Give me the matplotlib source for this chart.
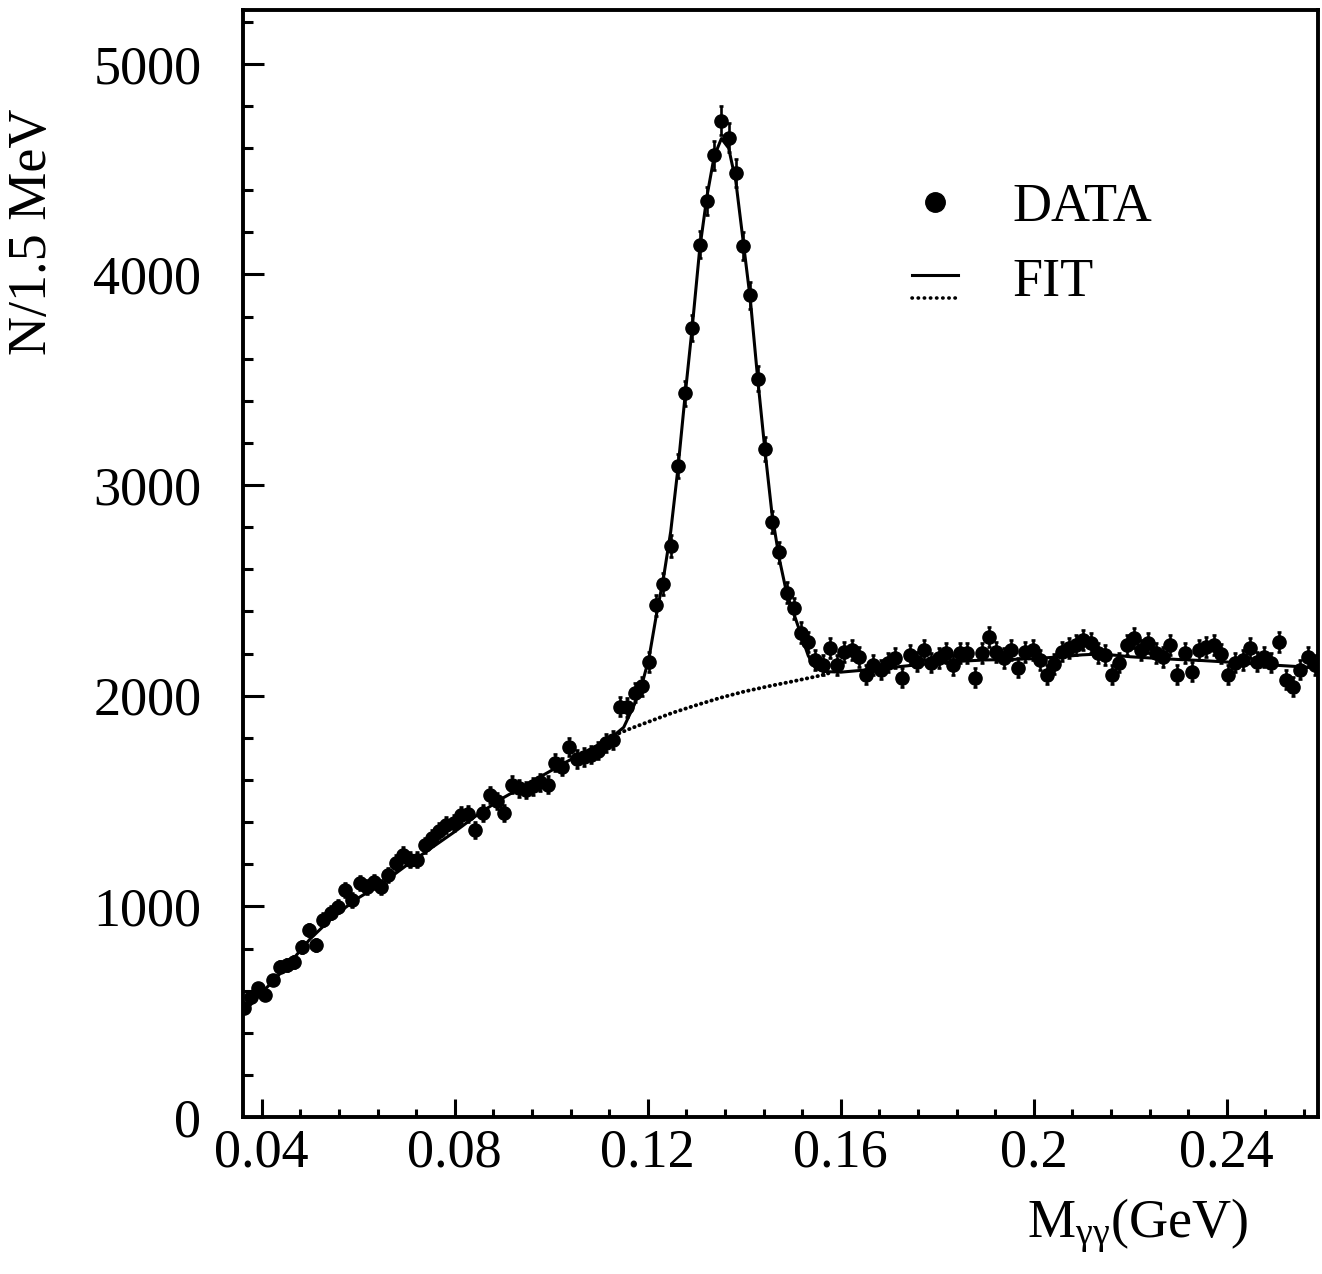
import numpy as np
import matplotlib
matplotlib.use("Agg")
import matplotlib.pyplot as plt
from matplotlib.lines import Line2D
from matplotlib.legend_handler import HandlerBase
from matplotlib.ticker import MultipleLocator, FormatStrFormatter

plt.rcParams['font.family'] = ['Liberation Serif', 'DejaVu Serif']
plt.rcParams['mathtext.fontset'] = 'custom'
plt.rcParams['mathtext.rm'] = 'Liberation Serif'
plt.rcParams['mathtext.it'] = 'Liberation Serif'

# histogram: 1.5 MeV bins, first bin starts at 0.0355 GeV
bin_start = 0.0355
bin_width = 0.0015
counts = [
    518, 570, 613, 580, 650, 713, 722, 736, 808, 888,
    817, 936, 969, 998, 1078, 1031, 1112, 1093, 1116, 1093,
    1150, 1207, 1245, 1221, 1221, 1290, 1325, 1360, 1387, 1397,
    1435, 1440, 1363, 1444, 1530, 1500, 1444, 1577, 1560, 1553,
    1570, 1590, 1577, 1682, 1663, 1758, 1700, 1710, 1720, 1740,
    1777, 1790, 1948, 1945, 2015, 2045, 2160, 2430, 2530, 2710,
    3090, 3435, 3745, 4140, 4350, 4565, 4730, 4650, 4480, 4135,
    3900, 3505, 3170, 2825, 2680, 2490, 2415, 2300, 2255, 2171,
    2147, 2228, 2147, 2209, 2219, 2185, 2100, 2147, 2124, 2157,
    2180, 2085, 2195, 2162, 2219, 2157, 2180, 2204, 2147, 2204,
    2204, 2085, 2204, 2280, 2209, 2180, 2219, 2133, 2209, 2219,
    2171, 2100, 2150, 2210, 2225, 2242, 2266, 2252, 2204, 2195,
    2100, 2157, 2242, 2276, 2219, 2252, 2204, 2185, 2242, 2100,
    2204, 2114, 2219, 2233, 2240, 2200, 2100, 2157, 2171, 2228,
    2162, 2185, 2157, 2257, 2076, 2043, 2124, 2185, 2147,
]

# fit curve (signal + background)
fit_x = [0.0355, 0.040, 0.045, 0.050, 0.055, 0.060, 0.065, 0.070, 0.075, 0.080,
         0.085, 0.090, 0.095, 0.100, 0.105, 0.110, 0.113, 0.115, 0.11725, 0.11875,
         0.12025, 0.12175, 0.12325, 0.12475, 0.12625, 0.12775, 0.12925, 0.13075, 0.13225, 0.13375,
         0.13525, 0.13675, 0.13825, 0.13975, 0.14125, 0.14275, 0.14425, 0.14575, 0.14725, 0.14875,
         0.15025, 0.15175, 0.15325, 0.15475, 0.1565, 0.160, 0.165, 0.170, 0.175, 0.180,
         0.185, 0.190, 0.195, 0.200, 0.205, 0.210, 0.2135, 0.217, 0.220, 0.225,
         0.230, 0.235, 0.240, 0.245, 0.250, 0.255, 0.2595]
fit_y = [480, 590, 710, 845, 955, 1040, 1110, 1195, 1275, 1355,
         1440, 1515, 1580, 1645, 1710, 1770, 1812, 1850, 1960, 2050,
         2180, 2380, 2560, 2780, 3080, 3430, 3760, 4120, 4370, 4560,
         4645, 4600, 4440, 4160, 3880, 3510, 3170, 2860, 2650, 2490,
         2390, 2290, 2190, 2130, 2115, 2112, 2122, 2133, 2145, 2156,
         2164, 2170, 2172, 2176, 2184, 2194, 2198, 2192, 2185, 2178,
         2172, 2167, 2160, 2152, 2145, 2138, 2132]

# background only (dotted), under the peak
bkg_x = [0.113, 0.1165, 0.120, 0.125, 0.130, 0.135, 0.140, 0.145, 0.150, 0.155, 0.158]
bkg_y = [1812, 1845, 1875, 1918, 1955, 1990, 2020, 2045, 2068, 2092, 2110]

counts = np.array(counts, dtype=float)
mass = bin_start + bin_width * (np.arange(len(counts)) + 0.5)
errors = np.sqrt(counts)


class FitHandler(HandlerBase):
    # solid line over a dotted one, like the original key
    def create_artists(self, legend, orig_handle, xdescent, ydescent,
                       width, height, fontsize, trans):
        y0 = -ydescent
        solid = Line2D([-xdescent, width - xdescent], [y0 + 0.55*height]*2,
                       color='k', lw=2.2)
        dots = Line2D([-xdescent, width - xdescent], [y0 - 0.05*height]*2,
                      color='k', lw=2.6, ls=(0, (0.1, 1.6)),
                      dash_capstyle='round')
        for a in (solid, dots):
            a.set_transform(trans)
        return [solid, dots]


fig = plt.figure(figsize=(13.22, 12.74), dpi=100)
ax = fig.add_axes([0.1838, 0.1232, 0.8132, 0.8689])

ax.errorbar(mass, counts, yerr=errors, fmt='o', color='k', ms=9.5,
            elinewidth=1.9, capsize=1.5, capthick=1.9, zorder=3)
ax.plot(fit_x, fit_y, color='k', lw=2.2, zorder=2)
ax.plot(bkg_x, bkg_y, color='k', lw=2.8, ls=(0, (0.1, 1.3)),
        dash_capstyle='round', zorder=2)

ax.set_xlim(0.0361, 0.2589)
ax.set_ylim(0, 5255)

ax.xaxis.set_major_locator(MultipleLocator(0.04))
ax.xaxis.set_minor_locator(MultipleLocator(0.008))
ax.xaxis.set_major_formatter(FormatStrFormatter('%g'))
ax.yaxis.set_major_locator(MultipleLocator(1000))
ax.yaxis.set_minor_locator(MultipleLocator(200))

ax.tick_params(which='both', direction='in', top=False, right=False,
               width=2.2, labelsize=39)
ax.tick_params(axis='x', which='major', length=13, pad=8)
ax.tick_params(axis='x', which='minor', length=6)
ax.tick_params(axis='y', which='major', length=15, pad=30)
ax.tick_params(axis='y', which='minor', length=7.5)
for s in ax.spines.values():
    s.set_linewidth(2.8)

ax.set_ylabel('N/1.5 MeV', fontsize=39, ha='center', va='center')
ax.yaxis.set_label_coords(-0.196, 0.80)
ax.set_xlabel(r'M$_{\mathrm{\gamma\gamma}}$(GeV)', fontsize=39, ha='right', va='top')
ax.xaxis.set_label_coords(0.935, -0.072)

h_data = Line2D([], [], ls='none', marker='o', ms=14, color='k')
ax.legend([h_data, object()], ['DATA', 'FIT'],
          handler_map={object: FitHandler()},
          loc='upper left', bbox_to_anchor=(0.577, 0.888),
          frameon=False, fontsize=39, handlelength=0.85,
          handletextpad=1.0, labelspacing=0.45)

fig.savefig('out.png', dpi=100)
